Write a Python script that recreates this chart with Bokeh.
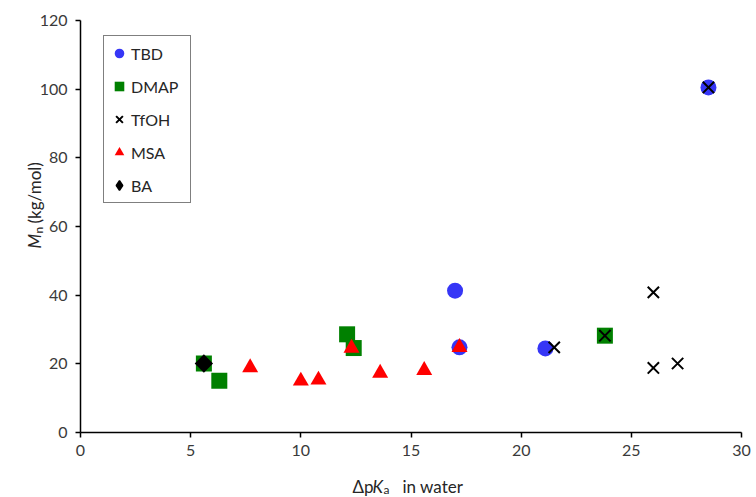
import math
from bokeh.plotting import figure
from bokeh.models import Range1d, Legend, LegendItem, Label, FixedTicker
from bokeh.embed import file_html
from bokeh.resources import INLINE

# ---- data ----
tbd_x = [17.0, 17.2, 21.1, 28.5]
tbd_y = [41.3, 24.8, 24.5, 100.5]
dmap_x = [5.6, 6.3, 12.1, 12.4, 23.8]
dmap_y = [20.1, 15.1, 28.6, 24.6, 28.2]
tfoh_x = [21.5, 23.8, 26.0, 26.0, 27.1, 28.5]
tfoh_y = [24.8, 28.2, 40.8, 18.8, 20.1, 100.5]
msa_x = [7.7, 10.0, 10.8, 12.3, 13.6, 15.6, 17.2]
msa_y = [18.9, 15.0, 15.3, 24.6, 17.3, 18.1, 24.8]
ba_x = [5.6]
ba_y = [20.1]

series_names = ["TBD", "DMAP", "TfOH", "MSA", "BA"]
x_ticks = [0, 5, 10, 15, 20, 25, 30]
y_ticks = [0, 20, 40, 60, 80, 100, 120]
x_lo, x_hi = 0, 30
y_lo, y_hi = 0, 120

# ---- layout (pixels) ----
W, H = 756, 497
AX_LEFT, AX_RIGHT, AX_TOP, AX_BOTTOM = 80, 741, 20, 432   # where the axes sit on the page
FONT = "Lato"
TXT = "#262626"

# The plot frame covers the whole page; the axes are fixed at the data origin,
# so the axis titles (built from several styled pieces) are not clipped.
sx = (AX_RIGHT - AX_LEFT) / (x_hi - x_lo)
sy = (AX_BOTTOM - AX_TOP) / (y_hi - y_lo)
x_range = Range1d(x_lo - AX_LEFT / sx, x_hi + (W - AX_RIGHT) / sx)
y_range = Range1d(y_lo - (H - AX_BOTTOM) / sy, y_hi + AX_TOP / sy)

p = figure(width=W, height=H, output_backend="svg", toolbar_location=None,
           x_range=x_range, y_range=y_range,
           min_border_left=0, min_border_right=0, min_border_top=0, min_border_bottom=0)
p.outline_line_color = None
p.xgrid.visible = False
p.ygrid.visible = False
p.background_fill_color = "white"
p.border_fill_color = "white"

for ax, ticks, bounds in ((p.xaxis[0], x_ticks, (x_lo, x_hi)), (p.yaxis[0], y_ticks, (y_lo, y_hi))):
    ax.fixed_location = 0
    ax.bounds = bounds
    ax.ticker = FixedTicker(ticks=ticks)
    ax.axis_line_color = "black"
    ax.axis_line_width = 1.5
    ax.major_tick_line_color = "black"
    ax.major_tick_line_width = 1.5
    ax.major_tick_out = 5
    ax.major_tick_in = 0
    ax.minor_tick_line_color = None
    ax.major_label_text_font = FONT
    ax.major_label_text_font_size = "16px"
    ax.major_label_text_color = "#3a3a3a"
p.xaxis[0].major_label_standoff = 7
p.yaxis[0].major_label_standoff = 8

r_tbd = p.scatter(tbd_x, tbd_y, marker="circle", size=16, fill_color="#3636f6", line_color=None)
r_dmap = p.scatter(dmap_x, dmap_y, marker="square", size=16, fill_color="#008000", line_color=None)
r_tfoh = p.scatter(tfoh_x, tfoh_y, marker="x", size=16, line_color="black", line_width=2)
r_msa = p.scatter(msa_x, msa_y, marker="triangle", size=16, fill_color="#ff0000", line_color=None)
r_ba = p.scatter(ba_x, ba_y, marker="square", size=13, angle=math.pi / 4, fill_color="black", line_color=None)
# diamond drawn inside the rotated square; used as the BA legend swatch (legends do not rotate markers)
r_ba_key = p.scatter(ba_x, ba_y, marker="diamond", size=12, fill_color="black", line_color="black", line_width=1.5)

legend_renderers = [r_tbd, r_dmap, r_tfoh, r_msa, r_ba_key]
legend = Legend(items=[LegendItem(label=n, renderers=[r]) for n, r in zip(series_names, legend_renderers)],
                location=(103, H - 203), border_line_color="black", border_line_width=1.5,
                padding=3, spacing=5, label_height=28, glyph_height=28, glyph_width=24,
                label_width=56, label_standoff=0, label_text_font=FONT, label_text_font_size="16px",
                label_text_color=TXT, background_fill_alpha=1.0, margin=0)
p.add_layout(legend, "center")


def lab(text, x, y, size="17px", style="normal", angle=0.0):
    p.add_layout(Label(x=x, y=H - y, x_units="screen", y_units="screen", text=text,
                       text_font=FONT, text_font_size=size, text_font_style=style,
                       text_color=TXT, angle=angle, text_align="left",
                       text_baseline="alphabetic"))


# x title: "ΔpK_a  in water"   (page pixel positions, y from top)
lab("\u0394p", 352, 486)
lab("K", 372, 486, style="italic")
lab("a", 383, 489, size="12px")
lab("in water", 402, 486)

# y title: "M_n (kg/mol)" rotated
lab("M", 34, 248, style="italic", angle=math.pi / 2)
lab("n", 38, 233, size="12px", angle=math.pi / 2)
lab("(kg/mol)", 34, 223, angle=math.pi / 2)

open("out.html", "w").write(file_html(p, INLINE))
